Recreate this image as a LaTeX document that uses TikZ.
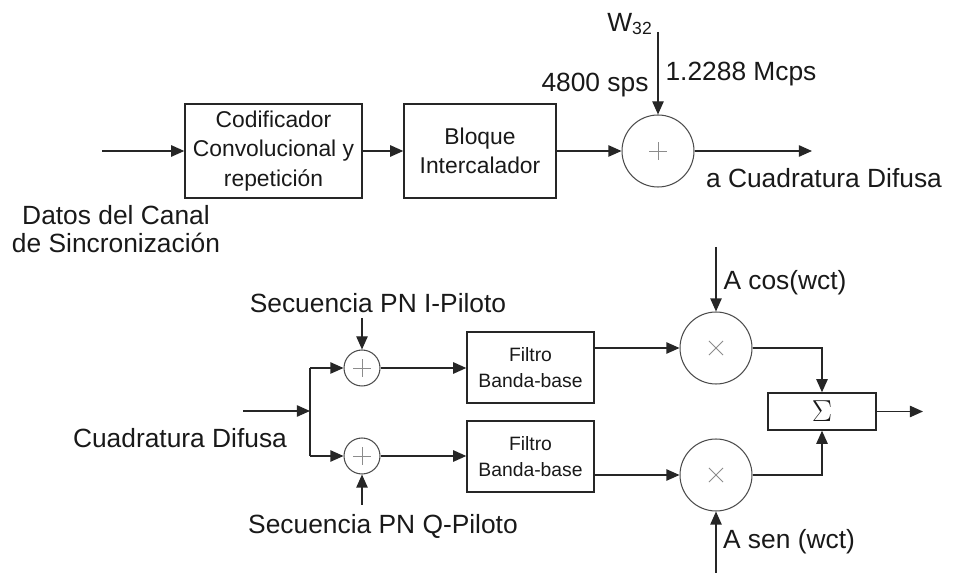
\documentclass[tikz,border=0pt]{standalone}
\usepackage{fontspec}
\setmainfont{Liberation Sans}
\usetikzlibrary{arrows.meta}

\begin{document}
\begin{tikzpicture}[x=0.02cm,y=-0.02cm,line width=0.8pt,color=black!85,text=black!90,
  >={Triangle[length=7.5pt,width=6.5pt]},
  every node/.style={font=\fontsize{15}{16}\selectfont,inner sep=0pt},
  blk/.style={draw,rectangle,align=center,font=\fontsize{13}{16.7}\selectfont},
  filt/.style={blk,minimum width=2.54cm,minimum height=1.42cm,font=\fontsize{11}{14.5}\selectfont},
  pluss/.style={circle,draw=black!70,line width=0.6pt,minimum size=#1,
    path picture={\draw[black!45,line width=0.5pt]
      ([xshift=-5pt]path picture bounding box.center) -- ([xshift=5pt]path picture bounding box.center)
      ([yshift=-5pt]path picture bounding box.center) -- ([yshift=5pt]path picture bounding box.center);}},
  multc/.style={circle,draw=black!70,line width=0.6pt,minimum size=#1,
    path picture={\draw[black!45,line width=0.5pt]
      ([shift={(-4pt,-4pt)}]path picture bounding box.center) -- ([shift={(4pt,4pt)}]path picture bounding box.center)
      ([shift={(-4pt,4pt)}]path picture bounding box.center) -- ([shift={(4pt,-4pt)}]path picture bounding box.center);}}]
\useasboundingbox (0,0) rectangle (956,573);

\node[blk,minimum width=3.54cm,minimum height=1.88cm] (codif) at (273.5,151) {Codificador\\Convolucional y\\repetición};
\node[blk,minimum width=3.04cm,minimum height=1.88cm] (bloque) at (480,151) {Bloque\\Intercalador};
\node[pluss=1.44cm] (sumw) at (658,151) {};
\coordinate (datin) at (102,151);
\coordinate (difout) at (812,151);
\coordinate (wtop) at (658,32);
\node (w32) at (630,24) {W\textsubscript{\fontsize{10}{10}\selectfont 32}};
\node (sps) at (595,85) {4800 sps};
\node (mcps) at (741,74) {1.2288 Mcps};
\node (adif) at (824,178) {a Cuadratura Difusa};
\node[align=center] (datos) at (116,229) {Datos del Canal\\de Sincronización};

\draw[->] (datin) -- (codif);
\draw[->] (codif) -- (bloque);
\draw[->] (bloque) -- (sumw);
\draw[->] (wtop) -- (sumw);
\draw[->] (sumw) -- (difout);

\node (seqi) at (378,303) {Secuencia PN I-Piloto};
\node[pluss=0.72cm] (plusi) at (362,368) {};
\node[pluss=0.72cm] (plusq) at (362,456) {};
\coordinate (seqitop) at (362,318);
\coordinate (cdin) at (243,411);
\coordinate (split) at (310,411);
\node (cdif) at (180,438) {Cuadratura Difusa};
\coordinate (seqqbot) at (362,505);
\node (seqq) at (383,526) {Secuencia PN Q-Piloto};
\node[filt] (filti) at (530.5,367.5) {Filtro\\Banda-base};
\node[filt] (filtq) at (530.5,456.5) {Filtro\\Banda-base};
\node[multc=1.44cm] (multi) at (716,348) {};
\node[multc=1.44cm] (multq) at (716,475) {};
\coordinate (costop) at (716,247);
\coordinate (senbot) at (716,573);
\node (cos) at (785,283) {A cos(wct)};
\node (sen) at (789,542) {A sen (wct)};
\node[draw,minimum width=2.16cm,minimum height=0.74cm,font=\fontsize{17}{17}\selectfont] (suma) at (822,411.5) {$\Sigma$};
\coordinate (sout) at (923,411.5);

\draw[->] (seqitop) -- (plusi);
\draw[->] (cdin) -- (split);
\draw (split |- plusi) -- (split |- plusq);
\draw[->] (split |- plusi) -- (plusi);
\draw[->] (split |- plusq) -- (plusq);
\draw[->] (seqqbot) -- (plusq);
\draw[->] (plusi) -- (plusi -| filti.west);
\draw[->] (plusq) -- (plusq -| filtq.west);
\draw[->] (filti.east |- multi) -- (multi);
\draw[->] (filtq.east |- multq) -- (multq);
\draw[->] (costop) -- (multi);
\draw[->] (senbot) -- (multq);
\draw[->] (multi) -| (suma);
\draw[->] (multq) -| (suma);
\draw[->] (suma) -- (sout);
\end{tikzpicture}
\end{document}
